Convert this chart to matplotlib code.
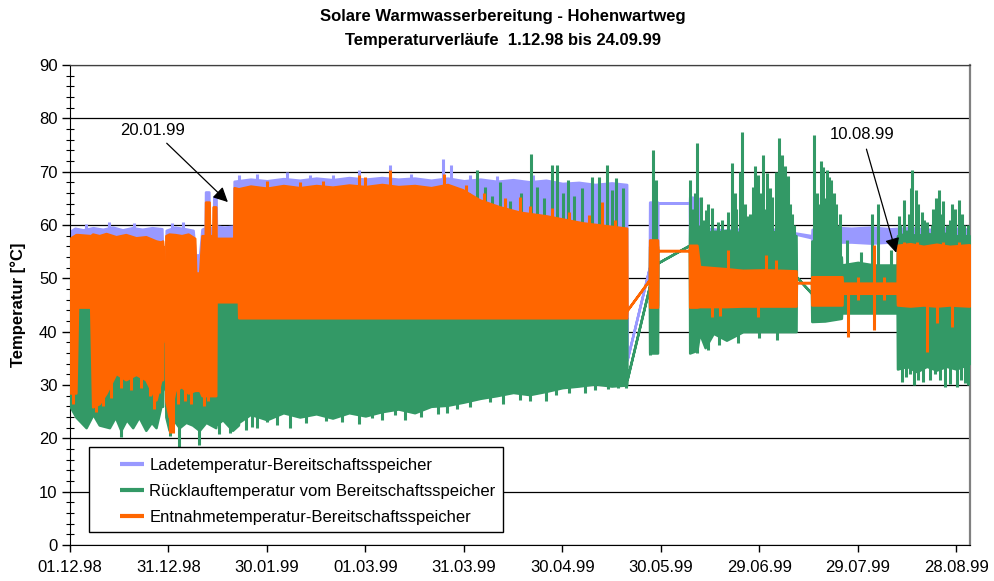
import numpy as np
import matplotlib
matplotlib.use('Agg')
import matplotlib.pyplot as plt
from matplotlib.patches import Rectangle
from matplotlib.lines import Line2D
from matplotlib.ticker import MultipleLocator

plt.rcParams['font.family'] = ['Liberation Sans', 'DejaVu Sans']

# ---------------- text ----------------
title_line1 = 'Solare Warmwasserbereitung - Hohenwartweg'
title_line2 = 'Temperaturverläufe  1.12.98 bis 24.09.99'
y_label = 'Temperatur [°C]'
series_names = ['Ladetemperatur-Bereitschaftsspeicher',
                'Rücklauftemperatur vom Bereitschaftsspeicher',
                'Entnahmetemperatur-Bereitschaftsspeicher']
series_colors = ['#9999FF', '#339966', '#FF6600']

# x axis: days since 01.12.98
tick_days = [0, 30, 60, 90, 120, 150, 180, 210, 240, 270]
tick_labels = ['01.12.98', '31.12.98', '30.01.99', '01.03.99', '31.03.99',
               '30.04.99', '30.05.99', '29.06.99', '29.07.99', '28.08.99']
x_max_day = 274.2

annot_labels = ['20.01.99', '10.08.99']
annot_target_day = [48.1, 251.7]
annot_target_temp = [64.3, 54.8]
annot_text_day = [25.3, 241.4]
annot_text_temp = [77.8, 76.9]

# ---------------- Ladetemperatur (envelope of the dense trace) ----------------
lade_day = [0.0, 1.5, 4.0, 7.0, 10.0, 13.0, 16.0, 19.0, 22.0, 25.0, 28.0,
            28.1, 29.2,
            29.3, 32.0, 35.0, 37.5, 38.2, 39.5, 40.2, 41.2, 41.3, 42.3, 42.4, 43.7, 43.8, 44.5, 44.6, 47.0, 49.9,
            50.0, 55.0, 60.0, 65.0, 70.0, 75.0, 80.0, 85.0, 90.0, 95.0, 100.0, 105.0, 110.0, 115.0,
            120.0, 125.0, 130.0, 135.0, 140.0, 145.0, 150.0, 155.0, 160.0, 165.0, 169.6,
            169.7, 176.5,
            176.6, 179.0,
            179.1, 188.7,
            188.8, 191.5, 192.5, 200.0, 206.0, 212.0,
            213.0, 221.0, 226.0,
            226.1, 232.0, 238.0, 244.0, 250.0, 256.0, 262.0, 268.0, 274.0]
lade_lo = [45] * 11 + [57.0, 38.4] + [45] * 17 + [45] * 25 + [34.7, 52.0] + [45, 45] + [64.1, 64.1] + \
          [57, 57, 57, 57, 57, 57.2] + [59.0, 58.3, 57.6] + \
          [57.0, 56.8, 56.8, 56.6, 56.8, 57.0, 56.8, 57.0, 56.8]
lade_hi = [58.8, 59.4, 59.1, 59.5, 59.2, 59.6, 59.1, 59.5, 59.2, 59.5, 59.3,
           57.0, 38.4,
           59.0, 59.6, 59.3, 59.0, 54.4, 54.4, 59.2, 59.5, 66.2, 66.2, 59.5, 59.5, 65.3, 65.3, 59.8, 59.6, 59.8,
           68.2, 68.6, 68.3, 68.7, 68.4, 68.8, 68.5, 68.9, 68.6, 68.9, 68.6, 68.8, 68.4, 68.8,
           68.3, 68.6, 68.2, 68.5, 68.1, 68.4, 67.8, 68.0, 67.6, 67.9, 67.6,
           34.7, 52.0,
           64.3, 64.3,
           64.1, 64.1,
           65.3, 65.0, 59.5, 59.0, 59.4, 59.3,
           59.4, 58.5, 58.0,
           59.2, 59.6, 59.4, 59.6, 59.3, 59.5, 59.2, 59.5, 59.2]
lade_spike_day = [5.0, 11.9, 19.5, 31.0, 34.5, 51.5, 57.0, 66.0, 73.0, 80.0, 88.0, 97.4, 104.0, 113.5, 116.0, 122.0, 130.0, 141.0]
lade_spike_lo = [58, 58, 58, 58, 58, 67, 67, 67, 67, 67, 67, 67, 67, 67, 67, 67, 67, 67]
lade_spike_hi = [60.2, 60.6, 60.4, 60.3, 60.6, 69.3, 69.5, 70.0, 69.3, 69.4, 70.3, 71.3, 69.6, 72.4, 71.3, 69.4, 69.2, 69.3]

# ---------------- Rücklauftemperatur ----------------
ruck_day = [0.0, 1.8, 4.9, 7.0, 8.9, 12.0, 13.8, 15.5, 17.2, 19.1, 21.0, 23.1, 24.8, 26.2, 27.7, 28.2,
            28.3, 29.1,
            29.2, 30.2, 31.5, 33.3, 35.3, 37.3, 39.4, 41.4, 44.4,
            44.5, 46.5, 49.5, 51.3,
            51.4, 55, 60, 65, 70, 75, 80, 85, 90, 95, 100, 105, 110, 115, 120, 125, 130, 135, 140,
            145, 150, 155, 160, 165, 169.6,
            169.7, 176.5,
            176.6, 179.0,
            179.1, 188.7,
            188.8, 191.0, 191.8, 193.5, 196.0, 200.0, 205.0, 212.0, 221.2,
            221.3, 225.9,
            226.0, 230.0, 235.0,
            235.1, 240.0, 245.0, 252.0,
            252.1, 255.0, 258.0, 261.0, 264.0, 267.0, 270.0, 274.0]
ruck_lo = [26.0, 24.0, 22.0, 24.5, 22.5, 22.0, 24.0, 21.5, 23.5, 22.0, 24.0, 21.5, 23.0, 22.0, 26.0, 26.0,
           40.0, 29.0,
           24.0, 21.5, 23.5, 22.0, 23.0, 22.5, 21.5, 23.0, 22.0,
           22.5, 23.5, 21.5, 22.5,
           23.0, 24.5, 23.5, 24.8, 24.0, 24.6, 23.8, 24.8, 24.2, 25.0, 25.5, 24.8, 26.0, 26.2, 26.8, 27.5,
           28.0, 28.6, 28.2, 28.8, 29.5, 29.8, 30.2, 29.8, 30.0,
           31.0, 48.4,
           36.0, 36.0,
           52.9, 56.2,
           36.0, 36.5, 39.7, 37.0, 39.7, 38.4, 40.0, 40.0, 40.0,
           50.3, 47.2,
           41.9, 42.0, 42.5,
           43.5, 43.5, 43.5, 43.5,
           33.0, 33.5, 32.5, 33.5, 32.8, 33.5, 33.0, 34.0]
ruck_hi = [44.6] * 15 + [40.0] + \
          [40.0, 29.0] + \
          [40.0] * 9 + \
          [45.6] * 4 + \
          [42.6] * 25 + \
          [31.0, 48.4] + \
          [56.0, 56.0] + \
          [52.9, 56.2] + \
          [60, 60, 59, 59, 58.5, 59, 58.5, 59, 58] + \
          [50.3, 47.2] + \
          [57, 57, 54] + \
          [52.5, 53.0, 52.5, 52.5] + \
          [58, 58.5, 58, 58.5, 58, 58.5, 58, 58]
ruck_spike_day = [15.5, 30.5, 33.3, 39.4, 45.5, 48.7,
                  53.5, 55.5, 57.0, 60.0, 63.0, 67.0, 72.0, 78.0, 83.0, 88.0, 92.0, 95.0, 99.0, 102.0,
                  107.0, 112.0, 115.0, 118.0, 122.0, 128.0, 132.0, 137.0, 140.0, 145.0, 148.0, 152.0,
                  157.0, 160.0, 164.0, 167.0, 169.4,
                  121.5, 124.0, 126.5, 128.5, 130.9, 134.0, 137.5, 140.6, 142.3, 144.5, 146.7, 148.5, 150.2, 151.6,
                  153.5, 156.0, 158.9, 161.3, 163.5, 165.0, 166.5, 168.5,
                  176.8, 177.5, 178.6,
                  188.9, 190.9, 192.2, 193.8, 195.5, 197.5, 200.5, 201.8, 203.0, 204.8, 206.3, 208.0, 209.6, 211.0,
                  212.5, 214.0, 215.9, 217.0, 218.6, 220.0,
                  189.6, 190.3, 191.5, 193.0, 194.5, 196.5, 198.7, 199.6, 202.5, 204.0, 205.5, 207.2, 208.8,
                  210.3, 211.7, 213.3, 215.0, 216.5, 217.8, 219.3, 220.7,
                  191.0, 194.5, 197.8, 203.5, 210.0, 215.5,
                  226.8, 228.0, 229.3, 230.7, 232.0, 233.4, 234.5,
                  227.5, 228.7, 230.0, 231.3, 232.7, 234.0,
                  236.8, 241.0, 244.4, 246.3, 250.1,
                  252.5, 253.5, 254.0, 255.5, 256.6, 257.0, 257.8, 259.5, 261.0, 262.0, 263.0, 264.8, 266.0, 266.5,
                  268.0, 269.5, 270.3, 270.9, 272.5, 272.8,
                  253.0, 255.0, 256.1, 258.5, 260.3, 262.5, 263.8, 265.5, 267.2, 268.8, 271.7, 273.5,
                  254.6, 255.8, 258.3, 260.0, 263.5, 265.0, 268.0, 271.5, 273.6]
ruck_spike_lo = [20.3, 20.5, 18.4, 18.7, 20.8, 21.0,
                 21.5, 22.2, 22.0, 23.0, 22.5, 22.0, 22.8, 23.2, 23.0, 22.6, 23.8, 23.5, 24.3, 23.5,
                 24.0, 24.5, 24.8, 25.5, 25.8, 26.8, 26.4, 27.2, 27.0, 27.0, 28.2, 28.5,
                 28.5, 29.0, 29.2, 29.5, 29.5] + \
                [55] * 22 + \
                [35.6, 45, 45] + \
                [50] * 20 + \
                [50] * 21 + \
                [36.0, 36.5, 37.5, 37.8, 38.8, 38.4] + \
                [50] * 7 + \
                [50] * 6 + \
                [50] * 5 + \
                [50, 30.5, 50, 50, 50, 30.0, 50, 50, 50, 31.0, 50, 50, 50, 29.7, 50, 50, 29.7, 50, 50, 30.4] + \
                [50] * 12 + \
                [31.5, 32.0, 31.0, 30.5, 32.0, 31.0, 30.2, 31.0, 30.0]
ruck_spike_hi = [30] * 6 + [32] * 31 + \
                [66.0, 70.3, 67.1, 65.5, 68.0, 64.5, 66.0, 73.3, 67.1, 65.0, 71.3, 71.3, 66.0, 68.4, 65.5, 67.0,
                 69.0, 69.0, 71.3, 66.5, 68.8, 67.0] + \
                [45, 74.0, 68.4] + \
                [68.4, 75.4, 65.3, 62.8, 63.2, 60.5, 62.5, 71.6, 63.0, 77.5, 61.6, 67.2, 69.4, 73.1, 69.8, 65.3,
                 76.3, 73.1, 69.1, 62.0] + \
                [63, 66, 60, 61, 64, 59, 61, 58, 66, 70, 64, 62, 71, 66, 63, 67, 70, 66, 71, 64, 60] + \
                [42] * 6 + \
                [76.9, 64.0, 70.9, 70.3, 68.4, 64.0, 62.0] + \
                [66, 72, 65, 69, 66, 60] + \
                [57.2, 55.0, 62.0, 64.0, 55.4] + \
                [61.6, 40, 64.7, 62.0, 70.3, 40, 66.6, 62.5, 60.5, 40, 63.0, 66.6, 64.5, 40, 61.0, 63.0, 40, 64.7, 60.0, 40] + \
                [60, 59, 67, 64, 61, 60, 65, 62, 60, 64, 62, 60] + \
                [40] * 9

# ---------------- Entnahmetemperatur ----------------
entn_day = [0.0, 1.8, 2.3, 6.3, 6.9, 8.9, 11.0, 14.0, 17.0, 20.1, 23.1, 26.2, 27.7, 28.2,
            28.3, 29.1,
            29.2, 30.2, 32.0, 34.0, 36.0, 38.0, 38.3, 39.5, 40.2, 41.2, 41.3, 42.4, 42.5, 43.5, 43.6, 44.4,
            44.5, 49.9, 50.0, 51.3,
            51.4, 55, 60, 65, 70, 75, 80, 85, 90, 95, 100, 105, 110, 115, 119.6, 124.8, 130.9, 137.0, 145.2, 156.2, 169.6,
            169.7, 176.5,
            176.6, 179.0,
            179.1, 188.7,
            188.8, 191.0, 191.8, 200.0, 205.0, 212.0, 221.2,
            221.3, 225.9,
            226.0, 235.2,
            235.3, 252.0,
            252.1, 256.0, 260.0, 264.0, 268.0, 274.0]
entn_lo = [28.5, 28.5, 44.6, 44.6, 25.9, 26.5, 28.5, 32.2, 31.0, 32.0, 31.0, 27.2, 31.0, 31.0,
           56.0, 38.0,
           27.0, 24.0, 29.0, 29.7, 28.5, 29.0, 29.0, 29.0, 28.0, 28.0, 28.0, 28.0, 28.0, 28.0, 28.0, 28.0,
           45.6, 45.6, 45.6, 45.6,
           ] + [42.6] * 21 + \
          [44.0, 49.7,
           44.6, 44.6,
           55.2, 55.2,
           44.6, 44.6, 44.7, 44.7, 44.8, 44.8, 44.8,
           49.2, 49.2,
           45.0, 45.0,
           47.2, 47.2,
           45.0, 44.8, 45.0, 44.8, 45.0, 44.8]
entn_hi = [57.5, 58.2, 58.2, 58.0, 58.3, 58.0, 58.4, 57.8, 58.2, 57.6, 57.8, 57.0, 56.8, 57.0,
           56.0, 38.0,
           58.0, 58.3, 58.2, 58.0, 58.3, 57.5, 51.0, 51.0, 58.0, 58.0, 64.3, 64.3, 58.0, 58.0, 63.4, 63.4,
           57.5, 57.5, 67.0, 66.8,
           66.8, 67.3, 66.9, 67.4, 67.0, 67.4, 67.1, 67.5, 67.2, 67.6, 67.2, 67.4, 67.0, 67.6,
           66.6, 64.7, 63.4, 62.4, 61.7, 60.4, 59.4,
           44.0, 49.7,
           57.2, 57.2,
           55.2, 55.2,
           56.2, 56.2, 52.2, 51.8, 51.5, 51.6, 51.4,
           49.2, 49.2,
           50.3, 50.3,
           49.1, 49.1,
           56.2, 56.5, 56.0, 56.4, 56.0, 56.3]
entn_spike_day = [1.0, 7.8, 10.0, 12.5, 15.5, 18.5, 21.5, 24.5, 25.5, 27.0,
                  30.5, 31.3, 33.0, 35.0, 37.0, 40.8, 42.0,
                  60.0, 70.0, 77.0, 88.0, 90.0, 97.4, 114.0,
                  120.5, 126.0, 132.5, 137.0, 140.0, 147.0, 152.0, 158.0, 162.0, 166.0,
                  189.5, 195.5, 198.0, 200.5, 209.5, 212.0, 215.0,
                  237.0, 240.0, 245.0, 248.0,
                  254.0, 258.0, 261.2, 264.2, 266.0, 268.8, 271.0]
entn_spike_lo = [26.5, 25.0, 26.0, 27.5, 29.5, 29.0, 29.5, 28.0, 25.5, 28.5,
                 21.0, 21.0, 26.5, 27.0, 26.5, 26.0, 27.0,
                 66, 66, 66, 66, 66, 66, 66,
                 60, 60, 60, 60, 58, 58, 58, 56, 58, 56,
                 50, 42.8, 43.0, 50, 42.8, 50, 50,
                 39.0, 46, 40.3, 46,
                 50, 50, 36.2, 41.6, 50, 40.9, 50]
entn_spike_hi = [35, 35, 35, 35, 35, 35, 35, 35, 35, 35,
                 30, 30, 32, 32, 32, 32, 32,
                 68.2, 68.0, 68.3, 69.4, 69.0, 70.3, 69.6,
                 67.5, 66.0, 65.0, 65.3, 63.5, 63.2, 62.4, 61.8, 64.3, 61.0,
                 56.2, 46, 46, 55.3, 46, 54.4, 53.5,
                 48, 50.3, 56.2, 50.3,
                 56.9, 56.9, 46, 46, 56.9, 46, 56.9]

# ---------------- figure ----------------
fig = plt.figure(figsize=(9.94, 5.81), dpi=100)
fig.patch.set_facecolor('white')
W, H = 994, 581
ax = fig.add_axes([70 / W, 36 / H, 900 / W, 480 / H])

series = [
    (lade_day, lade_lo, lade_hi, lade_spike_day, lade_spike_lo, lade_spike_hi),
    (ruck_day, ruck_lo, ruck_hi, ruck_spike_day, ruck_spike_lo, ruck_spike_hi),
    (entn_day, entn_lo, entn_hi, entn_spike_day, entn_spike_lo, entn_spike_hi),
]
for i, (d, lo, hi, sd, slo, shi) in enumerate(series):
    col = series_colors[i]
    ax.fill_between(d, lo, hi, facecolor=col, edgecolor=col, linewidth=1.8, zorder=2 + i)
    ax.vlines(sd, slo, shi, colors=col, linewidth=2.2, zorder=2 + i)

ax.set_xlim(0, x_max_day)
ax.set_ylim(0, 90)
ax.set_xticks(tick_days)
ax.set_xticklabels(tick_labels)
ax.yaxis.set_major_locator(MultipleLocator(10))
ax.yaxis.set_minor_locator(MultipleLocator(2))
ax.yaxis.grid(True, which='major', color='black', linewidth=0.9)
ax.set_axisbelow(True)

ax.tick_params(axis='y', which='major', direction='out', length=6, width=1, labelsize=12, pad=3)
ax.tick_params(axis='y', which='minor', direction='inout', length=6, width=0.8)
ax.tick_params(axis='x', which='major', direction='out', length=5, width=1, labelsize=12, pad=6)

ax.spines['left'].set_color('black')
ax.spines['bottom'].set_color('black')
ax.spines['top'].set_color('#404040')
ax.spines['top'].set_linewidth(0.9)
ax.spines['right'].set_color('#808080')
ax.spines['right'].set_linewidth(1.6)

# annotations
for lab, tx, ty, ax_d, ax_t in zip(annot_labels, annot_text_day, annot_text_temp,
                                    annot_target_day, annot_target_temp):
    ax.annotate(lab, xy=(ax_d, ax_t), xytext=(tx, ty), ha='center', va='center', fontsize=12,
                zorder=20,
                arrowprops=dict(arrowstyle='-|>', color='black', lw=0.9, mutation_scale=22,
                                shrinkA=3, shrinkB=0))

# legend
ax.add_patch(Rectangle((19 / 900, 13 / 480), 414 / 900, 85 / 480, transform=ax.transAxes,
                       facecolor='white', edgecolor='black', linewidth=1.0, zorder=10))
handles = [Line2D([0], [0], color=c, lw=3, solid_capstyle='butt') for c in series_colors]
leg = ax.legend(handles, series_names, loc='upper left', bbox_to_anchor=(50 / 900, 87 / 480),
                frameon=False, fontsize=12, handlelength=1.45, handletextpad=0.3,
                labelspacing=0.66, borderpad=0, borderaxespad=0)
leg.set_zorder(11)

# titles and axis label
fig.text(503 / W, 1 - 17 / H, title_line1, ha='center', va='center', fontsize=12, fontweight='bold')
fig.text(503 / W, 1 - 41 / H, title_line2, ha='center', va='center', fontsize=12, fontweight='bold')
fig.text(18 / W, 1 - 305 / H, y_label, ha='center', va='center', rotation=90, fontsize=12, fontweight='bold')

fig.savefig('out.png', dpi=100)
